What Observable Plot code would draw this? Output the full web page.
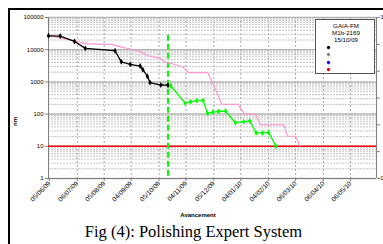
<!DOCTYPE html>
<html><head><meta charset="utf-8">
<script src="https://cdn.jsdelivr.net/npm/d3@7"></script>
<script src="https://cdn.jsdelivr.net/npm/@observablehq/plot@0.6"></script>
<style>
body{margin:0;background:#fff;}
#wrap{position:relative;width:383px;height:244px;overflow:hidden;background:#fff;font-family:"Liberation Sans",Arial,sans-serif;}
#frame{position:absolute;left:8px;top:8px;width:500px;height:400px;border-left:2px solid #000;border-top:2px solid #000;box-sizing:border-box;}
#chart{position:absolute;left:0;top:0;}
#legend{position:absolute;left:315px;top:19px;width:60px;height:55px;box-sizing:border-box;border:1px solid #555;background:#fff;font-size:6.2px;text-align:center;line-height:7px;color:#000;}
#legend .t{padding-top:2px;padding-left:2px;}
#legend .m{position:absolute;left:11px;width:3px;height:3px;border-radius:1px;transform:rotate(45deg);}
#caption{position:absolute;left:0;top:221px;width:387px;text-align:center;font-family:"Liberation Serif","Times New Roman",serif;font-size:16.5px;line-height:22px;color:#000;}
</style></head>
<body>
<div id="wrap">
  <div id="chart"></div>
  <div id="frame"></div>
  <div id="legend"></div>
  <div id="caption"></div>
</div>
<script>
// ---- data ----
const blackDates  = ["2009-06-04","2009-06-17","2009-07-03","2009-07-15","2009-08-17","2009-08-24","2009-09-03","2009-09-14","2009-09-17","2009-09-22","2009-09-25","2009-10-07","2009-10-15"];
const blackValues = [27000,26500,18000,11000,9300,4200,3500,3100,2400,1500,950,800,790];

const greenDates  = ["2009-10-18","2009-11-03","2009-11-09","2009-11-16","2009-11-23","2009-11-28","2009-12-04","2009-12-10","2009-12-18","2009-12-29","2010-01-07","2010-01-14","2010-01-21","2010-01-28","2010-02-04","2010-02-12"];
const greenValues = [760,218,240,263,266,105,115,121,125,54,58,61,26,26,27,10];

const pinkDates  = ["2009-06-04","2009-07-02","2009-07-15","2009-08-15","2009-08-24","2009-09-03","2009-09-14","2009-09-23","2009-10-01","2009-10-06","2009-10-12","2009-10-20","2009-10-31","2009-11-07","2009-11-28","2009-12-04","2009-12-14","2010-01-01","2010-01-08","2010-01-20","2010-01-26","2010-02-21","2010-02-25","2010-03-06","2010-03-11"];
const pinkValues = [27400,19000,15400,14300,12000,10500,8700,6500,5750,5500,4000,3650,2950,1950,1950,870,200,200,100,100,46,46,20.5,20.5,10];

const phaseChangeDate = "2009-10-15";
const phaseLineTop = 28000;
const targetValue = 10;

const xDomain = ["2009-06-04","2010-06-04"];
const xTickDates  = ["2009-06-05","2009-07-06","2009-08-05","2009-09-04","2009-10-05","2009-11-04","2009-12-05","2010-01-04","2010-02-04","2010-03-06","2010-04-06","2010-05-06"];
const xTickLabels = ["05/06/09","06/07/09","05/08/09","04/09/09","05/10/09","04/11/09","05/12/09","04/01/10","04/02/10","06/03/10","06/04/10","06/05/10"];
const yTicks = [1,10,100,1000,10000,100000];
const rightTickLabels = [0,0.2,0.4,0.6,0.8,1,1.2];

const legendLines = ["GAIA-FM","M1b-2169","15/10/09"];
const legendColors = ["#000000","#808080","#0000ff","#ff0000"];

const yTitle = "nm";
const xTitle = "Avancement";
const captionText = "Fig (4): Polishing Expert System";

// ---- build ----
const parse = d3.utcParse("%Y-%m-%d");
const black = blackDates.map((d,i)=>({date:parse(d), v:blackValues[i]}));
const green = greenDates.map((d,i)=>({date:parse(d), v:greenValues[i]}));
const pink  = pinkDates.map((d,i)=>({date:parse(d), v:pinkValues[i]}));
const xTicks = xTickDates.map(parse);
const labelByTime = new Map(xTicks.map((d,i)=>[+d, xTickLabels[i]]));
const minorY = d3.scaleLog().domain([1,100000]).ticks().filter(t => !yTicks.includes(t));
const rightMax = rightTickLabels[rightTickLabels.length-1];
const rightPos = rightTickLabels.map(v => Math.pow(10, v / rightMax * Math.log10(yTicks[yTicks.length-1])));
const font = '"Liberation Sans", Arial, sans-serif';

const plot = Plot.plot({
  width: 383, height: 222,
  marginTop: 17, marginBottom: 44, marginLeft: 48, marginRight: 7,
  style: {background: "transparent", fontFamily: font, fontSize: "6px", color: "#000"},
  x: {type: "utc", domain: xDomain.map(parse)},
  y: {type: "log", domain: [1, 100000]},
  marks: [
    Plot.ruleY(minorY, {stroke: "#c4c4c4", strokeDasharray: "2,1", strokeWidth: 1}),
    Plot.ruleX(xTicks.slice(1), {stroke: "#a8a8a8", strokeDasharray: "2,2", strokeWidth: 1}),
    Plot.ruleY(yTicks, {stroke: "#b4b4b4", strokeWidth: 1.5}),
    Plot.ruleX([parse(xDomain[0])], {stroke: "#808080", strokeWidth: 1}),
    Plot.ruleX([parse(xDomain[1])], {stroke: "#808080", strokeWidth: 1}),
    Plot.ruleY([yTicks[0]], {stroke: "#808080", strokeWidth: 1}),
    Plot.ruleY([targetValue], {stroke: "#ff0000", strokeWidth: 1.5}),
    Plot.ruleX([parse(phaseChangeDate)], {y1: phaseLineTop, y2: yTicks[0], stroke: "#00ff00", strokeWidth: 2, strokeDasharray: "6,3"}),
    Plot.line(pink, {x: "date", y: "v", stroke: "#ff99cc", strokeWidth: 1.2}),
    Plot.line(black, {x: "date", y: "v", stroke: "#000000", strokeWidth: 1.3}),
    Plot.dot(black, {x: "date", y: "v", symbol: "diamond", r: 1.8, fill: "#000000"}),
    Plot.line(green, {x: "date", y: "v", stroke: "#00ff00", strokeWidth: 1.3}),
    Plot.dot(green, {x: "date", y: "v", symbol: "diamond", r: 1.8, fill: "#00ff00"}),
    Plot.axisY(yTicks, {anchor: "left", tickSize: 3, tickPadding: 2, tickFormat: d => String(d), label: null, fontSize: 6, stroke: "#808080"}),
    Plot.axisY(rightPos, {anchor: "right", tickSize: 3, tickPadding: 1, tickFormat: d => String(Math.round(Math.log10(d) / 5 * rightMax * 10) / 10), label: null, fontSize: 6, stroke: "#808080"}),
    Plot.axisX(xTicks, {anchor: "bottom", tickSize: 3, tickPadding: 1, tickRotate: -45, tickFormat: d => labelByTime.get(+d), label: null, fontSize: 6.5, stroke: "#808080"}),
    Plot.text([yTitle], {frameAnchor: "left", dx: -33, dy: 28, rotate: -90, fontWeight: "bold", fontSize: 6, text: d => d}),
    Plot.text([xTitle], {frameAnchor: "bottom", dx: -14.5, dy: 38, fontWeight: "bold", fontSize: 6, text: d => d})
  ]
});
document.getElementById("chart").appendChild(plot);

const legend = document.getElementById("legend");
const t = document.createElement("div"); t.className = "t";
t.innerHTML = legendLines.join("<br>");
legend.appendChild(t);
legendColors.forEach((c,i) => {
  const m = document.createElement("div"); m.className = "m";
  m.style.background = c; m.style.top = (26 + i*7.3) + "px";
  legend.appendChild(m);
});
document.getElementById("caption").textContent = captionText;
</script>
</body></html>
